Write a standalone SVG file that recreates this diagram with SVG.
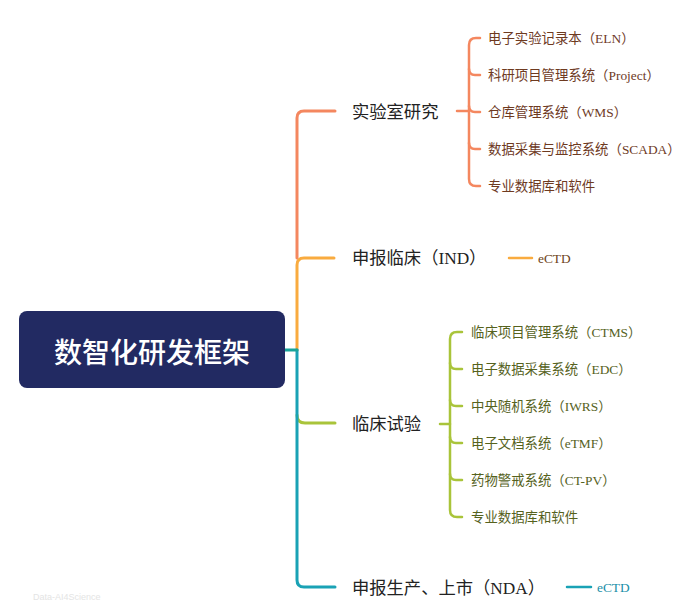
<svg xmlns="http://www.w3.org/2000/svg" width="694" height="612" viewBox="0 0 694 612">
<style>
.l1{font-family:"Liberation Serif","Noto Sans CJK SC",sans-serif;font-size:17.3px;fill:#222;dominant-baseline:central}
.c1{font-family:"Liberation Serif","Noto Sans CJK SC",serif;font-size:13.4px;fill:#6e3a1f;dominant-baseline:central}
.c3{font-family:"Liberation Serif","Noto Sans CJK SC",serif;font-size:13.4px;fill:#56621d;dominant-baseline:central}
.e2{font-family:"Liberation Serif","Noto Sans CJK SC",serif;font-size:13.4px;fill:#6e4420;dominant-baseline:central}
.e4{font-family:"Liberation Serif","Noto Sans CJK SC",serif;font-size:13.4px;fill:#1a8fa8;dominant-baseline:central}
.ln{fill:none;stroke-width:3;stroke-linecap:round}
.sl{fill:none;stroke-width:2.5;stroke-linecap:round}
</style>
<rect width="694" height="612" fill="#ffffff"/>
<g id="connectors">
  <path class="ln" stroke="#f4875f" d="M335,111 H304 Q297,111 297,118 V258"/>
  <path class="ln" stroke="#f9ab3f" d="M334,258 H304 Q297,258 297,265 V350"/>
  <path class="ln" stroke="#a9c43a" d="M297,415 Q297,423 305,423 H335"/>
  <path class="ln" stroke="#1aa2b5" d="M297,350 V580 Q297,587 304,587 H335"/>
  <path class="ln" stroke="#18a39a" d="M285,350 H297"/>
  <g stroke="#f4875f">
    <path class="sl" d="M457,111 H469"/>
    <path class="sl" d="M480,38 H476 Q469,38 469,45 V179 Q469,186 476,186 H480"/>
    <path class="sl" d="M469,69 Q469,75 475,75 H480"/>
    <path class="sl" d="M469,106 Q469,112 475,112 H480"/>
    <path class="sl" d="M469,143 Q469,149 475,149 H480"/>
  </g>
  <path class="sl" stroke="#f9ab3f" d="M509,258 H532"/>
  <g stroke="#a9c43a">
    <path class="sl" d="M440,424 H450"/>
    <path class="sl" d="M462,332 H457 Q450,332 450,339 V510 Q450,517 457,517 H462"/>
    <path class="sl" d="M450,363 Q450,369 456,369 H462"/>
    <path class="sl" d="M450,400 Q450,406 456,406 H462"/>
    <path class="sl" d="M450,437 Q450,443 456,443 H462"/>
    <path class="sl" d="M450,474 Q450,480 456,480 H462"/>
  </g>
  <path class="sl" stroke="#1aa2b5" d="M567,587 H591"/>
</g>
<g id="root">
  <rect x="19" y="311" width="266" height="77" rx="8" fill="#222a62"/>
  <text x="152" y="351" text-anchor="middle" font-family="'Noto Sans CJK SC',sans-serif" font-size="28" font-weight="500" fill="#ffffff" dominant-baseline="central">数智化研发框架</text>
</g>
<g id="lab"><text class="l1" x="352" y="112">实验室研究</text></g>
<g id="lab-eln"><text class="c1" x="488" y="38">电子实验记录本（ELN）</text></g>
<g id="lab-project"><text class="c1" x="488" y="75">科研项目管理系统（Project）</text></g>
<g id="lab-wms"><text class="c1" x="488" y="112">仓库管理系统（WMS）</text></g>
<g id="lab-scada"><text class="c1" x="488" y="149">数据采集与监控系统（SCADA）</text></g>
<g id="lab-db"><text class="c1" x="488" y="186">专业数据库和软件</text></g>
<g id="ind"><text class="l1" x="352" y="258">申报临床（IND）</text></g>
<g id="ind-ectd"><text class="e2" x="538" y="258">eCTD</text></g>
<g id="clinical"><text class="l1" x="352" y="424">临床试验</text></g>
<g id="cl-ctms"><text class="c3" x="471" y="332">临床项目管理系统（CTMS）</text></g>
<g id="cl-edc"><text class="c3" x="471" y="369">电子数据采集系统（EDC）</text></g>
<g id="cl-iwrs"><text class="c3" x="471" y="406">中央随机系统（IWRS）</text></g>
<g id="cl-etmf"><text class="c3" x="471" y="443">电子文档系统（eTMF）</text></g>
<g id="cl-ctpv"><text class="c3" x="471" y="480">药物警戒系统（CT-PV）</text></g>
<g id="cl-db"><text class="c3" x="471" y="517">专业数据库和软件</text></g>
<g id="nda"><text class="l1" x="352" y="588">申报生产、上市（NDA）</text></g>
<g id="nda-ectd"><text class="e4" x="597" y="587">eCTD</text></g>
<text x="33" y="597" font-family="'Liberation Sans',sans-serif" font-size="9" fill="#e4e4e4" dominant-baseline="central">Data-AI4Science</text>
</svg>
